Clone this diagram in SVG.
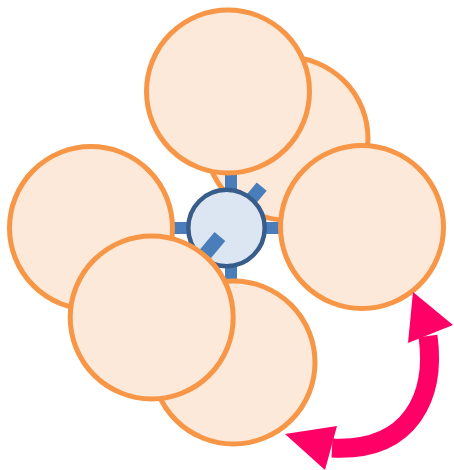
<svg xmlns="http://www.w3.org/2000/svg" width="454" height="470" viewBox="0 0 454 470">
  <style>
    .big { fill: #FDE9D9; stroke: #F79646; stroke-width: 5; }
    .spoke { fill: #4A7EBB; }
    .hub { fill: #DCE6F2; stroke: #385D8A; stroke-width: 4.5; }
    .arrow { fill: none; stroke: #FF0066; stroke-width: 19; }
    .head { fill: #FF0066; }
  </style>
  <rect width="454" height="470" fill="#FFFFFF"/>
  <g id="node-back-topright">
    <circle class="big" cx="286.5" cy="138.5" r="81.5"/>
  </g>
  <g id="node-hub">
    <rect class="spoke" x="225" y="170" width="12" height="112"/>
    <rect class="spoke" x="172" y="222" width="110" height="12"/>
    <rect class="spoke" x="0" y="-6.5" width="54" height="13" transform="translate(227,228) rotate(-50)"/>
    <circle class="hub" cx="226.5" cy="228" r="38.2"/>
    <rect class="spoke" x="11" y="-7" width="44" height="14" transform="translate(227,228) rotate(130)"/>
  </g>
  <g id="node-bottom">
    <circle class="big" cx="233.5" cy="362.5" r="81.5"/>
  </g>
  <g id="node-left">
    <circle class="big" cx="91" cy="228" r="81.5"/>
  </g>
  <g id="node-bottomleft">
    <circle class="big" cx="151.7" cy="317.5" r="81.5"/>
  </g>
  <g id="node-top">
    <circle class="big" cx="228" cy="91.5" r="81.5"/>
  </g>
  <g id="node-right">
    <circle class="big" cx="362" cy="227" r="81.5"/>
  </g>
  <g id="connectors">
    <path class="arrow" d="M428,336 C436,395 412,452 332,448"/>
    <polygon class="head" points="413,292 453,325 408,343"/>
    <polygon class="head" points="285,434 337,426 325,470"/>
  </g>
</svg>
